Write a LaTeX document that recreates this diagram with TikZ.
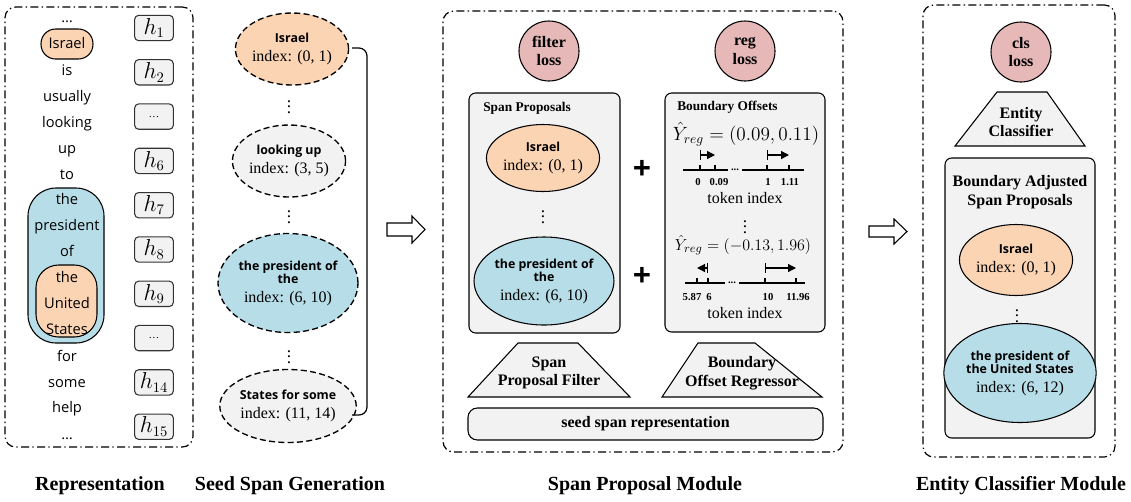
\documentclass[tikz,border=0pt]{standalone}
\usepackage{fontspec}
\setmainfont{Liberation Serif}
\setsansfont{Open Sans}
\usepackage{tikz}
\usetikzlibrary{shapes.geometric, arrows.meta, positioning}
\usepackage{amsmath}
\definecolor{spanorange}{HTML}{FBD4B4}
\definecolor{spanblue}{HTML}{B7DEE8}
\definecolor{lossrose}{HTML}{E6B9B8}
\definecolor{panelgray}{HTML}{F2F2F2}
\newcommand{\spanfont}{\sffamily\bfseries\fontsize{9.3}{10}\selectfont}

\begin{document}
\begin{tikzpicture}[
    x=0.75pt, y=-0.75pt,
    every node/.style={font=\fontsize{12}{14}\selectfont},
    module/.style={draw, rounded corners=8pt, line width=0.9pt, dash pattern=on 6pt off 2.5pt on 1pt off 2.5pt},
    word/.style={font=\sffamily\fontsize{11}{12}\selectfont, inner sep=0pt, text height=8pt, text depth=2pt},
    tokbox/.style={draw, line width=0.8pt, fill=spanorange},
    hvec/.style={draw=black!80, fill=panelgray, rounded corners=3pt, line width=0.8pt, minimum width=29pt, minimum height=19pt, inner sep=0pt, font=\fontsize{16}{16}\selectfont},
    seedspan/.style={ellipse, draw, line width=1pt, dash pattern=on 4.5pt off 2.5pt, inner sep=0pt, align=center},
    proposal/.style={ellipse, draw, line width=0.8pt, inner sep=0pt, align=center},
    panel/.style={draw, fill=panelgray, rounded corners=5pt, line width=0.8pt},
    loss/.style={circle, draw, fill=lossrose, line width=0.8pt, minimum size=45pt, inner sep=0pt, align=center, font=\bfseries\fontsize{12}{14}\selectfont},
    layer/.style={draw, fill=panelgray, line width=0.8pt, line join=miter},
    layertext/.style={inner sep=0pt, align=center, font=\bfseries\fontsize{12}{14}\selectfont},
    vdot/.style={inner sep=0pt, font=\fontsize{13}{13}\selectfont},
    tick/.style={inner sep=0pt, font=\bfseries\fontsize{8}{9}\selectfont},
    offset/.style={{Bar[width=7pt]}-{Triangle[length=6pt, width=6pt]}, line width=0.9pt},
    openarrow/.style={draw, line width=0.8pt, fill=white},
    lbl/.style={font=\bfseries\fontsize{15}{17}\selectfont}
]
    \useasboundingbox (0,0) rectangle (1131,501);

    \node[module, minimum width=141pt, minimum height=330pt] (repframe) at (99,227) {};
    \node[draw, line width=0.8pt, fill=spanblue, rounded corners=21pt, minimum width=57pt, minimum height=116.25pt] (wBlue) at (66,265.5) {};
    \node[tokbox, rounded corners=17pt, minimum width=45.75pt, minimum height=54pt] (wOrange) at (66.5,301) {};

    \node[word] (wDotsTop) at (67,18) {…};
    \node[word, tokbox, rounded corners=11pt, minimum width=39pt, minimum height=22.5pt] (wIsrael) at (67,44) {Israel};
    \node[word] (wIs) at (67,71) {is};
    \node[word] (wUsually) at (67,97) {usually};
    \node[word] (wLooking) at (67,123) {looking};
    \node[word] (wUp) at (67,149) {up};
    \node[word] (wTo) at (67,175) {to};
    \node[word] (wThe) at (67,200) {the};
    \node[word] (wPresident) at (67,226) {president};
    \node[word] (wOf) at (67,252) {of};
    \node[word] (wTheUS) at (67,278) {the};
    \node[word] (wUnited) at (67,304) {United};
    \node[word] (wStates) at (67,330) {States};
    \node[word] (wFor) at (67,357) {for};
    \node[word] (wSome) at (67,383) {some};
    \node[word] (wHelp) at (67,408) {help};
    \node[word] (wDotsBot) at (67,435) {…};

    \node[hvec] (h1) at (154,28) {$h_1$};
    \node[hvec] (h2) at (154,72.3) {$h_2$};
    \node[hvec, font=\fontsize{8}{8}\selectfont] (hDots1) at (154,116.6) {…};
    \node[hvec] (h6) at (154,160.9) {$h_6$};
    \node[hvec] (h7) at (154,205.2) {$h_7$};
    \node[hvec] (h8) at (154,249.5) {$h_8$};
    \node[hvec] (h9) at (154,293.8) {$h_9$};
    \node[hvec, font=\fontsize{8}{8}\selectfont] (hDots2) at (154,338.1) {…};
    \node[hvec] (h14) at (154,382.4) {$h_{14}$};
    \node[hvec] (h15) at (154,426.7) {$h_{15}$};

    \node[seedspan, fill=spanorange, minimum width=72.75pt, minimum height=54pt] (sIsrael) at (292,49) {{\spanfont Israel}\\index: (0, 1)};
    \node[vdot] (sDots1) at (289,103) {$\vdots$};
    \node[seedspan, fill=panelgray, minimum width=72pt, minimum height=54pt] (sLooking) at (289,161) {{\spanfont looking up}\\index: (3, 5)};
    \node[vdot] (sDots2) at (289,213) {$\vdots$};
    \node[seedspan, fill=spanblue, minimum width=91.5pt, minimum height=74.25pt] (sPresident) at (288,283) {{\spanfont the president of}\\[-4pt]{\spanfont the}\\index: (6, 10)};
    \node[vdot] (sDots3) at (289,353) {$\vdots$};
    \node[seedspan, fill=panelgray, minimum width=81.75pt, minimum height=54.75pt] (sStates) at (288,406) {{\spanfont States for some}\\index: (11, 14)};

    \coordinate (braceTop) at (352,48);
    \coordinate (braceBot) at (352,415);
    \draw[rounded corners=6pt, line width=0.9pt] (braceTop) -| (367,232) |- (braceBot);

    \draw[openarrow] (387,223) -- ++(25,0) -- ++(0,-7) -- ++(13,13.5) -- ++(-13,13.5) -- ++(0,-7) -- ++(-25,0) -- cycle;

    \node[module, minimum width=300pt, minimum height=330.75pt] (spmframe) at (643,231.5) {};
    \node[loss] (filterLoss) at (549,51) {filter\\loss};
    \node[loss] (regLoss) at (745,51) {reg\\loss};

    \node[panel, minimum width=113.25pt, minimum height=180pt] (spanBox) at (544.5,213) {};
    \node[anchor=west, inner sep=0pt, font=\bfseries\fontsize{10}{12}\selectfont] (spanTitle) at (483,108) {Span Proposals};
    \node[proposal, fill=spanorange, minimum width=72pt, minimum height=50.25pt] (pIsrael) at (543,158) {{\spanfont Israel}\\index: (0, 1)};
    \node[vdot] (pDots) at (543,213) {$\vdots$};
    \node[proposal, fill=spanblue, minimum width=88.5pt, minimum height=66pt] (pPresident) at (544,281) {{\spanfont the president of}\\[-4pt]{\spanfont the}\\index: (6, 10)};

    \node[inner sep=0pt, font=\sffamily\bfseries\fontsize{24}{24}\selectfont] (plusTop) at (642,170) {+};
    \node[inner sep=0pt, font=\sffamily\bfseries\fontsize{24}{24}\selectfont] (plusBot) at (642,277) {+};

    \node[panel, minimum width=120pt, minimum height=179.25pt] (offBox) at (745,212.5) {};
    \node[anchor=west, inner sep=0pt, font=\bfseries\fontsize{10}{12}\selectfont] (offTitle) at (677,107) {Boundary Offsets};
    \node[inner sep=0pt, font=\fontsize{14}{16}\selectfont] (yFirst) at (746,134) {$\hat{Y}_{reg} = (0.09, 0.11)$};
    \draw[line width=0.9pt] (683,170) -- (728,170) (742,170) -- (804,170);
    \draw[line width=0.9pt] (700,170) -- ++(0,-5) (715,170) -- ++(0,-5) (767,170) -- ++(0,-5) (789,170) -- ++(0,-5);
    \node[tick, anchor=south] (gapFirst) at (735,171) {...};
    \draw[offset] (700,155) -- (715,155);
    \draw[offset] (767,155) -- (789,155);
    \node[tick] (t0) at (698,182) {0};
    \node[tick] (t009) at (719,182) {0.09};
    \node[tick] (t1) at (768,182) {1};
    \node[tick] (t111) at (790,182) {1.11};
    \node[inner sep=0pt] (tokFirst) at (745,198) {token index};
    \node[vdot] (oDots) at (745,223) {$\vdots$};
    \node[inner sep=0pt, font=\fontsize{13}{15}\selectfont] (ySecond) at (743,245) {$\hat{Y}_{reg} = (-0.13, 1.96)$};
    \draw[line width=0.9pt] (685,283) -- (725,283) (739,283) -- (805,283);
    \draw[line width=0.9pt] (697,283) -- ++(0,-5) (708,283) -- ++(0,-5) (765,283) -- ++(0,-5) (796,283) -- ++(0,-5);
    \node[tick, anchor=south] (gapSecond) at (732,284) {...};
    \draw[offset] (708,268) -- (697,268);
    \draw[offset] (765,268) -- (796,268);
    \node[tick] (t587) at (692,297) {5.87};
    \node[tick] (t6) at (709,297) {6};
    \node[tick] (t10) at (768,297) {10};
    \node[tick] (t1196) at (798,297) {11.96};
    \node[inner sep=0pt] (tokSecond) at (745,313) {token index};

    \draw[layer] (468,397) -- (518,343) -- (578,343) -- (630,397) -- cycle;
    \node[layertext] (filterLayer) at (549,373) {Span\\Proposal Filter};
    \draw[layer] (662,397) -- (698,343) -- (755,343) -- (822,397) -- cycle;
    \node[layertext] (regLayer) at (742,373) {Boundary\\Offset Regressor};
    \node[panel, rounded corners=7pt, minimum width=266.25pt, minimum height=24pt, font=\bfseries\fontsize{12}{14}\selectfont] (seedRep) at (645.5,424) {seed span representation};

    \draw[openarrow] (869,226) -- ++(25,0) -- ++(0,-7) -- ++(13,12.5) -- ++(-13,12.5) -- ++(0,-7) -- ++(-25,0) -- cycle;

    \node[module, minimum width=144pt, minimum height=339pt] (ecmframe) at (1019,231) {};
    \node[loss] (clsLoss) at (1021,52) {cls\\loss};
    \draw[layer] (955,146) -- (997,92) -- (1047,92) -- (1085,146) -- cycle;
    \node[layertext] (clsLayer) at (1021,122) {Entity\\Classifier};
    \node[panel, minimum width=112.5pt, minimum height=210pt] (adjBox) at (1020,298) {};
    \node[inner sep=0pt, align=center, font=\bfseries\fontsize{12}{14}\selectfont] (adjTitle) at (1020,192) {Boundary Adjusted\\Span Proposals};
    \node[proposal, fill=spanorange, minimum width=69pt, minimum height=53.25pt] (eIsrael) at (1016,260) {{\spanfont Israel}\\index: (0, 1)};
    \node[vdot] (eDots) at (1017,312) {$\vdots$};
    \node[proposal, fill=spanblue, minimum width=90pt, minimum height=74.25pt] (ePresident) at (1020,373) {{\spanfont the president of}\\[-4pt]{\spanfont the United States}\\index: (6, 12)};

    \node[lbl] (repLbl) at (100,486) {Representation};
    \node[lbl] (seedLbl) at (290,486) {Seed Span Generation};
    \node[lbl] (spmLbl) at (645,486) {Span Proposal Module};
    \node[lbl] (ecmLbl) at (1021,486) {Entity Classifier Module};
\end{tikzpicture}
\end{document}
